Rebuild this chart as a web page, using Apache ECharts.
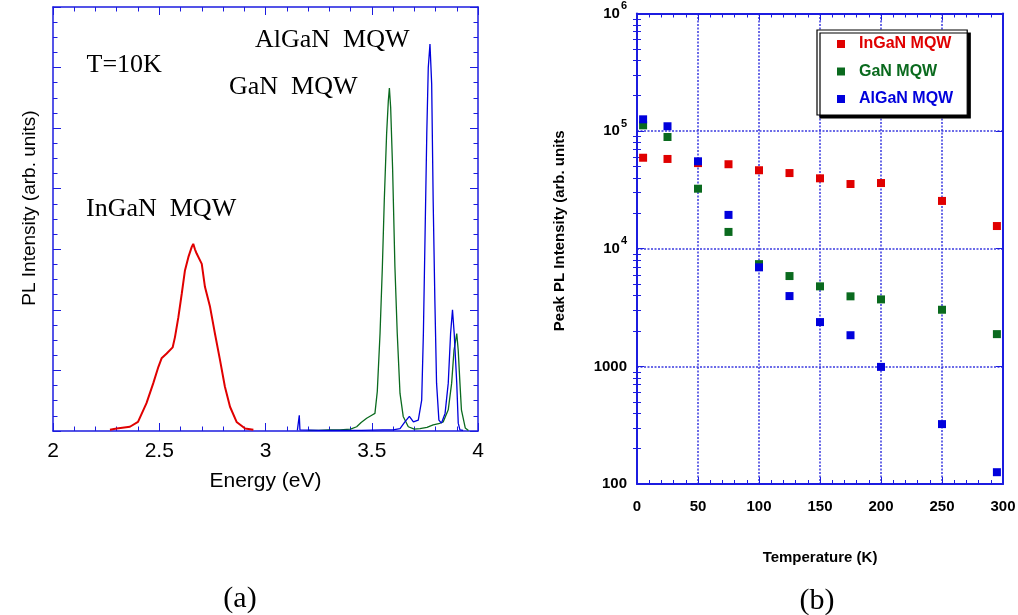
<!DOCTYPE html>
<html>
<head>
<meta charset="utf-8">
<script src="https://cdn.jsdelivr.net/npm/echarts@6/dist/echarts.min.js"></script>
<style>
  html, body { margin: 0; padding: 0; background: #fff; }
  #chart { width: 1018px; height: 615px; }
</style>
</head>
<body>
<div id="chart"></div>
<script>
// (a) PL spectra at T = 10 K
const inganEnergy = [2.268, 2.30, 2.362, 2.40, 2.44, 2.472, 2.496, 2.511, 2.535, 2.563, 2.574, 2.59, 2.606, 2.621, 2.637, 2.653, 2.66, 2.668, 2.676, 2.70, 2.715, 2.739, 2.762, 2.786, 2.809, 2.833, 2.864, 2.904, 2.943];
const inganIntensity = [0.02, 0.04, 0.07, 0.15, 0.46, 0.79, 1.06, 1.20, 1.28, 1.38, 1.55, 1.88, 2.27, 2.65, 2.87, 3.04, 3.09, 3.00, 2.93, 2.76, 2.38, 2.05, 1.61, 1.17, 0.73, 0.40, 0.15, 0.04, 0.02];

const ganEnergy = [3.20, 3.25, 3.30, 3.35, 3.40, 3.429, 3.45, 3.476, 3.50, 3.515, 3.526, 3.539, 3.55, 3.559, 3.570, 3.578, 3.583, 3.589, 3.598, 3.609, 3.62, 3.633, 3.648, 3.672, 3.70, 3.727, 3.76, 3.789, 3.815, 3.836, 3.86, 3.876, 3.887, 3.90, 3.907, 3.915, 3.922, 3.94, 3.955];
const ganIntensity = [0.01, 0.01, 0.02, 0.02, 0.03, 0.07, 0.14, 0.21, 0.26, 0.29, 0.65, 1.61, 2.71, 3.81, 4.91, 5.45, 5.66, 5.34, 4.35, 2.71, 1.61, 0.62, 0.24, 0.07, 0.03, 0.04, 0.06, 0.10, 0.12, 0.15, 0.35, 0.79, 1.33, 1.61, 1.33, 0.79, 0.35, 0.05, 0.01];

const alganEnergy = [3.15, 3.156, 3.159, 3.162, 3.17, 3.25, 3.35, 3.45, 3.55, 3.60, 3.633, 3.656, 3.677, 3.696, 3.719, 3.735, 3.743, 3.751, 3.759, 3.766, 3.774, 3.782, 3.789, 3.797, 3.805, 3.816, 3.828, 3.845, 3.86, 3.871, 3.88, 3.888, 3.90, 3.907, 3.915, 3.93];
const alganIntensity = [0.01, 0.02, 0.26, 0.02, 0.01, 0.01, 0.01, 0.01, 0.02, 0.02, 0.04, 0.15, 0.24, 0.15, 0.18, 0.51, 1.61, 3.26, 4.91, 6.00, 6.39, 5.73, 3.81, 2.16, 0.79, 0.18, 0.13, 0.29, 0.79, 1.61, 2.00, 1.61, 0.79, 0.13, 0.02, 0.01];

// (b) peak PL intensity versus temperature
const temperatures = [5, 25, 50, 75, 100, 125, 150, 175, 200, 250, 295];
const inganPeak = [59400, 58000, 53500, 52300, 46500, 44000, 39700, 35500, 36200, 25500, 15600];
const ganPeak   = [112000, 89100, 32400, 13900, 7400, 5860, 4790, 3940, 3710, 3030, 1880];
const alganPeak = [126000, 110000, 55400, 19400, 6950, 3960, 2380, 1840, 990, 323, 126];

const seriesNames = ['InGaN MQW', 'GaN MQW', 'AlGaN MQW'];

const SANS = '"Liberation Sans", Arial, sans-serif';
const SERIF = '"Liberation Serif", "Times New Roman", serif';
const AXIS_BLUE = '#1c1ce0';
const RED = '#e00000';
const GREEN = '#0a6a1e';
const BLUE = '#0000dc';

function pairs(xs, ys) { return xs.map((x, i) => [x, ys[i]]); }

// minor tick positions of the log axis, expressed in decades
const logMinorTicks = [];
for (let d = 2; d < 6; d++) {
  for (let k = 2; k <= 9; k++) logMinorTicks.push(d + Math.log10(k));
}

function frameAxis(extra) {
  return Object.assign({
    type: 'value',
    axisLine: { show: true, onZero: false, lineStyle: { color: AXIS_BLUE, width: 1.5 } },
    axisTick: { show: true, inside: true, length: 8, lineStyle: { color: AXIS_BLUE, width: 1 } },
    minorTick: { show: true, length: 4.5, lineStyle: { color: AXIS_BLUE, width: 1 } },
    axisLabel: { show: false },
    splitLine: { show: false }
  }, extra);
}

const gridLine = { show: true, lineStyle: { color: '#3a3ae0', width: 1.5, type: [2, 1.5] } };

const chart = echarts.init(document.getElementById('chart'), null, { renderer: 'canvas' });

chart.setOption({
  animation: false,
  backgroundColor: '#fff',
  grid: [
    { left: 53, top: 7, width: 425, height: 424, containLabel: false, outerBoundsMode: 'none' },
    { left: 637, top: 13.5, width: 366, height: 470.5, containLabel: false, outerBoundsMode: 'none' }
  ],
  xAxis: [
    frameAxis({
      gridIndex: 0, position: 'bottom', min: 2, max: 4, interval: 0.5,
      minorTick: { show: true, splitNumber: 5, length: 4.5, lineStyle: { color: AXIS_BLUE, width: 1 } },
      axisLabel: { show: true, color: '#000', fontFamily: SANS, fontSize: 21, margin: 10 },
      name: 'Energy (eV)', nameLocation: 'middle', nameGap: 40,
      nameTextStyle: { color: '#000', fontFamily: SANS, fontSize: 21 }
    }),
    frameAxis({
      gridIndex: 0, position: 'top', min: 2, max: 4, interval: 0.5,
      minorTick: { show: true, splitNumber: 5, length: 4.5, lineStyle: { color: AXIS_BLUE, width: 1 } }
    }),
    frameAxis({
      gridIndex: 1, position: 'bottom', min: 0, max: 300, interval: 50,
      axisLine: { show: true, onZero: false, lineStyle: { color: AXIS_BLUE, width: 2 } },
      axisTick: { show: true, inside: true, length: 7, lineStyle: { color: AXIS_BLUE, width: 1 } },
      minorTick: { show: true, splitNumber: 5, length: 4, lineStyle: { color: AXIS_BLUE, width: 1 } },
      axisLabel: { show: true, color: '#000', fontFamily: SANS, fontWeight: 'bold', fontSize: 15, margin: 15 },
      splitLine: gridLine,
      name: 'Temperature (K)', nameLocation: 'middle', nameGap: 66,
      nameTextStyle: { color: '#000', fontFamily: SANS, fontWeight: 'bold', fontSize: 15 }
    }),
    frameAxis({
      gridIndex: 1, position: 'top', min: 0, max: 300, interval: 50,
      axisLine: { show: true, onZero: false, lineStyle: { color: AXIS_BLUE, width: 2 } },
      axisTick: { show: true, inside: true, length: 7, lineStyle: { color: AXIS_BLUE, width: 1 } },
      minorTick: { show: true, splitNumber: 5, length: 4, lineStyle: { color: AXIS_BLUE, width: 1 } }
    })
  ],
  yAxis: [
    frameAxis({
      gridIndex: 0, position: 'left', min: 0, max: 7, interval: 1,
      minorTick: { show: true, splitNumber: 4, length: 4.5, lineStyle: { color: AXIS_BLUE, width: 1 } },
      name: 'PL Intensity (arb. units)', nameLocation: 'middle', nameGap: 14,
      nameTextStyle: { color: '#000', fontFamily: SANS, fontSize: 19, padding: [0, 0, 0, 22] }
    }),
    frameAxis({
      gridIndex: 0, position: 'right', min: 0, max: 7, interval: 1,
      minorTick: { show: true, splitNumber: 4, length: 4.5, lineStyle: { color: AXIS_BLUE, width: 1 } }
    }),
    {
      gridIndex: 1, type: 'log', logBase: 10, min: 100, max: 1000000, position: 'left',
      axisLine: { show: true, onZero: false, lineStyle: { color: AXIS_BLUE, width: 2 } },
      axisTick: { show: true, inside: true, length: 7, lineStyle: { color: AXIS_BLUE, width: 1 } },
      minorTick: { show: false },
      splitLine: gridLine,
      axisLabel: {
        show: true, margin: 10,
        formatter: function (v) {
          if (v >= 10000) return '{b|10}{s|' + Math.round(Math.log10(v)) + '}';
          return '{b|' + v + '}';
        },
        rich: {
          b: { fontFamily: SANS, fontWeight: 'bold', fontSize: 15, color: '#000', lineHeight: 26 },
          s: { fontFamily: SANS, fontWeight: 'bold', fontSize: 11, color: '#000', lineHeight: 11, verticalAlign: 'top', padding: [0, 0, 0, 1] }
        }
      },
      name: 'Peak PL Intensity (arb. units', nameLocation: 'middle', nameGap: 70,
      nameTextStyle: { color: '#000', fontFamily: SANS, fontWeight: 'bold', fontSize: 15, padding: [0, 0, 0, 36] }
    },
    {
      gridIndex: 1, type: 'log', logBase: 10, min: 100, max: 1000000, position: 'right',
      axisLine: { show: true, onZero: false, lineStyle: { color: AXIS_BLUE, width: 2 } },
      axisTick: { show: true, inside: true, length: 7, lineStyle: { color: AXIS_BLUE, width: 1 } },
      axisLabel: { show: false },
      splitLine: { show: false }
    },
    {
      gridIndex: 1, type: 'value', min: 2, max: 6, position: 'left',
      axisLine: { show: false },
      axisTick: { show: true, inside: true, length: 4, customValues: logMinorTicks, lineStyle: { color: AXIS_BLUE, width: 1 } },
      axisLabel: { show: false },
      splitLine: { show: false }
    },
    {
      gridIndex: 1, type: 'value', min: 2, max: 6, position: 'right',
      axisLine: { show: false },
      axisTick: { show: true, inside: true, length: 4, customValues: logMinorTicks, lineStyle: { color: AXIS_BLUE, width: 1 } },
      axisLabel: { show: false },
      splitLine: { show: false }
    }
  ],
  legend: {
    orient: 'vertical',
    left: 817, top: 30,
    icon: 'rect', itemWidth: 8, itemHeight: 8, itemGap: 11.5,
    padding: [6, 14, 8, 20],
    backgroundColor: '#fff',
    borderColor: '#000', borderWidth: 1.2,
    shadowColor: '#000', shadowBlur: 0, shadowOffsetX: 3, shadowOffsetY: 3,
    textStyle: { fontFamily: SANS, fontWeight: 'bold', fontSize: 16, lineHeight: 16, padding: [0, 0, 0, 9] },
    data: [
      { name: seriesNames[0], textStyle: { color: RED } },
      { name: seriesNames[1], textStyle: { color: GREEN } },
      { name: seriesNames[2], textStyle: { color: BLUE } }
    ]
  },
  graphic: [
    { type: 'text', x: 86.5, y: 65.5, style: { text: 'T=10K', font: '26px ' + SERIF, fill: '#000', verticalAlign: 'middle' } },
    { type: 'text', x: 86, y: 209, style: { text: 'InGaN  MQW', font: '26px ' + SERIF, fill: '#000', verticalAlign: 'middle' } },
    { type: 'text', x: 229, y: 87.5, style: { text: 'GaN  MQW', font: '26px ' + SERIF, fill: '#000', verticalAlign: 'middle' } },
    { type: 'text', x: 255, y: 40.5, style: { text: 'AlGaN  MQW', font: '26px ' + SERIF, fill: '#000', verticalAlign: 'middle' } },
    { type: 'text', x: 240, y: 599, style: { text: '(a)', font: '30px ' + SERIF, fill: '#000', align: 'center', verticalAlign: 'middle' } },
    { type: 'text', x: 817, y: 601, style: { text: '(b)', font: '30px ' + SERIF, fill: '#000', align: 'center', verticalAlign: 'middle' } }
  ],
  series: [
    { name: 'InGaN spectrum', type: 'line', xAxisIndex: 0, yAxisIndex: 0, showSymbol: false, symbol: 'none',
      lineStyle: { color: RED, width: 2 }, itemStyle: { color: RED }, data: pairs(inganEnergy, inganIntensity) },
    { name: 'GaN spectrum', type: 'line', xAxisIndex: 0, yAxisIndex: 0, showSymbol: false, symbol: 'none',
      lineStyle: { color: GREEN, width: 1.3 }, itemStyle: { color: GREEN }, data: pairs(ganEnergy, ganIntensity) },
    { name: 'AlGaN spectrum', type: 'line', xAxisIndex: 0, yAxisIndex: 0, showSymbol: false, symbol: 'none',
      lineStyle: { color: BLUE, width: 1.3 }, itemStyle: { color: BLUE }, data: pairs(alganEnergy, alganIntensity) },
    { name: seriesNames[0], type: 'scatter', xAxisIndex: 2, yAxisIndex: 2, symbol: 'rect', symbolSize: 8,
      itemStyle: { color: RED, opacity: 1 }, data: pairs(temperatures, inganPeak) },
    { name: seriesNames[1], type: 'scatter', xAxisIndex: 2, yAxisIndex: 2, symbol: 'rect', symbolSize: 8,
      itemStyle: { color: GREEN, opacity: 1 }, data: pairs(temperatures, ganPeak) },
    { name: seriesNames[2], type: 'scatter', xAxisIndex: 2, yAxisIndex: 2, symbol: 'rect', symbolSize: 8,
      itemStyle: { color: BLUE, opacity: 1 }, data: pairs(temperatures, alganPeak) }
  ]
});
</script>
</body>
</html>
